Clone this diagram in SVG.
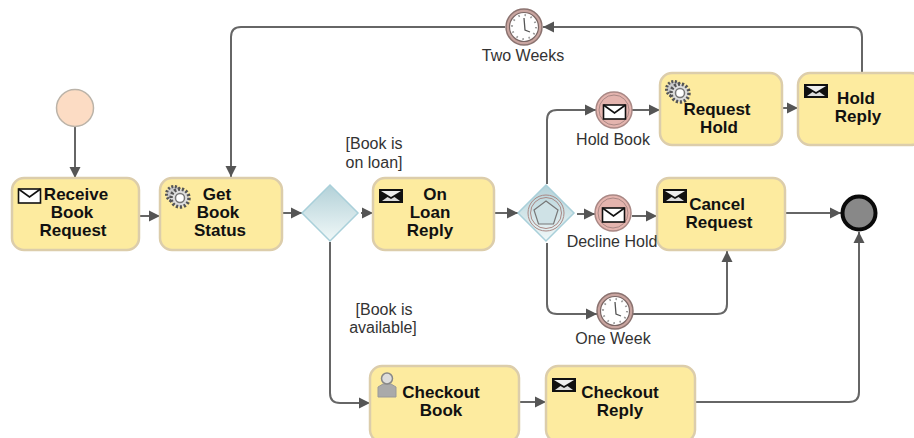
<svg xmlns="http://www.w3.org/2000/svg" xmlns:xlink="http://www.w3.org/1999/xlink" width="914" height="438" viewBox="0 0 914 438">
<style>
.task{fill:#fdeb9f;stroke:#dccdab;stroke-width:2.5}
.t{font-family:"Liberation Sans",Arial,sans-serif;font-weight:bold;font-size:17px;fill:#111;text-anchor:middle}
.l{font-family:"Liberation Sans",Arial,sans-serif;font-size:16px;fill:#333;text-anchor:middle}
.c{fill:none;stroke:#666;stroke-width:2;marker-end:url(#a)}
.gw{fill:url(#g);stroke:#a9d0da;stroke-width:1.5}
.ev{fill:#e4b4ae;stroke:#a98885;stroke-width:1.5}
.ir{fill:none;stroke:#a98885;stroke-width:1}
</style>
<defs>
<marker id="a" markerUnits="userSpaceOnUse" markerWidth="12" markerHeight="12" refX="11" refY="6" orient="auto"><path d="M0 .5L11 6L0 11.5z" fill="#555"/></marker>
<linearGradient id="g" x1="0" y1="0" x2="0" y2="1"><stop offset="0" stop-color="#b3d1d8"/><stop offset="1" stop-color="#f0f8f8"/></linearGradient>
<g id="env"><rect x="0" y="0" width="22" height="14" fill="#fff" stroke="#111" stroke-width="1.6"/><path d="M0 0L11 8L22 0" fill="none" stroke="#111" stroke-width="1.6"/></g>
<g id="envb"><rect x="0" y="0" width="24" height="14" fill="#111"/><path d="M2 2H22L12 8z" fill="#eee"/><path d="M3 12L8.500 8L12 10L15.500 8L21 12z" fill="#ddd"/></g>
<g id="gear"><circle cx="-4" cy="-3" r="7.500" fill="#ccc" stroke="#555" stroke-width="3" stroke-dasharray="2 1.6"/><circle cx="2" cy="1" r="9" fill="#ddd" stroke="#555" stroke-width="3.500" stroke-dasharray="2.2 1.8"/><circle cx="2" cy="1" r="4.500" fill="#fff" stroke="#777" stroke-width="1.5"/></g>
<g id="clock"><circle r="18" fill="#c9a5a0" stroke="#8b7370" stroke-width="1.5"/><circle r="14.5" fill="#fff" stroke="#7a6664" stroke-width="1.2"/><circle r="12" fill="none" stroke="#999" stroke-width="2" stroke-dasharray="1.5 4.8"/><path d="M0 -9L1 3L6 5" fill="none" stroke="#555" stroke-width="1.3"/></g>
</defs>
<rect width="914" height="438" fill="#fff"/>
<g id="connectors">
<path class="c" d="M75 127V178"/>
<path class="c" d="M139 216H160"/>
<path class="c" d="M282 213H302"/>
<path class="c" d="M361 213H373"/>
<path class="c" d="M494 213H518"/>
<path class="c" d="M505 27H241Q231 27 231 37V177"/>
<path class="c" d="M862 72V37Q862 27 852 27H543"/>
<path class="c" d="M547 184V120Q547 110 557 110H596"/>
<path class="c" d="M632 110H660"/>
<path class="c" d="M782 108H798"/>
<path class="c" d="M577 214H595"/>
<path class="c" d="M632 216H657"/>
<path class="c" d="M785 213H841"/>
<path class="c" d="M547 243V304Q547 314 557 314H597"/>
<path class="c" d="M633 314H717Q727 314 727 304V251"/>
<path class="c" d="M330 242V393Q330 403 340 403H370"/>
<path class="c" d="M519 402H546"/>
<path class="c" d="M695 402H849Q859 402 859 392V232"/>
</g>
<g id="start"><circle cx="75" cy="108" r="18.5" fill="#fcdcc4" stroke="#bbb3a8" stroke-width="1.5"/></g>
<g id="receive"><rect class="task" x="12" y="178" width="127" height="72" rx="12"/><use xlink:href="#env" href="#env" x="18.500" y="189"/><text class="t" x="76" y="200">Receive</text><text class="t" x="72" y="218">Book</text><text class="t" x="73" y="236">Request</text></g>
<g id="getstatus"><rect class="task" x="160" y="178" width="122" height="72" rx="12"/><use xlink:href="#gear" href="#gear" x="178" y="197"/><text class="t" x="217" y="200">Get</text><text class="t" x="218" y="218">Book</text><text class="t" x="220" y="236">Status</text></g>
<g id="gateway1"><path class="gw" d="M330 185L358 213L330 241L302 213z"/></g>
<g id="onloan"><rect class="task" x="373" y="178" width="121" height="72" rx="12"/><use xlink:href="#envb" href="#envb" x="379" y="189"/><text class="t" x="435" y="200">On</text><text class="t" x="430" y="218">Loan</text><text class="t" x="430" y="236">Reply</text></g>
<g id="gateway2"><path class="gw" d="M546 185L574 213L546 241L518 213z"/><circle class="ir" cx="546" cy="213" r="18" stroke="#666"/><circle class="ir" cx="546" cy="213" r="15.5"/><path d="M546 201L558 210L553.500 224H538.500L534 210z" fill="#cfe2e6" stroke="#777" stroke-width="1.2"/></g>
<g id="holdbook"><circle class="ev" cx="614" cy="110" r="18"/><circle class="ir" cx="614" cy="110" r="15"/><use xlink:href="#env" href="#env" x="603.500" y="105"/></g>
<g id="requesthold"><rect class="task" x="660" y="73" width="122" height="72" rx="12"/><use xlink:href="#gear" href="#gear" x="678" y="92"/><text class="t" x="717" y="115">Request</text><text class="t" x="719" y="133">Hold</text></g>
<g id="holdreply"><rect class="task" x="798" y="73" width="125" height="72" rx="12"/><use xlink:href="#envb" href="#envb" x="804" y="84"/><text class="t" x="856" y="104">Hold</text><text class="t" x="858" y="122">Reply</text></g>
<g id="twoweeks"><use xlink:href="#clock" href="#clock" x="524" y="27"/></g>
<g id="decline"><circle class="ev" cx="613" cy="213" r="18"/><circle class="ir" cx="613" cy="213" r="15"/><use xlink:href="#env" href="#env" x="602.500" y="208"/></g>
<g id="cancel"><rect class="task" x="657" y="178" width="128" height="72" rx="12"/><use xlink:href="#envb" href="#envb" x="663" y="189"/><text class="t" x="717" y="210">Cancel</text><text class="t" x="719" y="228">Request</text></g>
<g id="oneweek"><use xlink:href="#clock" href="#clock" x="615" y="311"/></g>
<g id="end"><circle cx="859" cy="213" r="16.500" fill="#888" stroke="#0a0a0a" stroke-width="4"/></g>
<g id="checkoutbook"><rect class="task" x="370" y="366" width="149" height="76" rx="12"/><path d="M378 397V387L383 384H391L396 387V397z" fill="#aaa" stroke="#999" stroke-width="1"/><circle cx="387" cy="378.500" r="5.500" fill="#ddd" stroke="#888" stroke-width="1.5"/><text class="t" x="441" y="398">Checkout</text><text class="t" x="441" y="416">Book</text></g>
<g id="checkoutreply"><rect class="task" x="546" y="366" width="149" height="76" rx="12"/><use xlink:href="#envb" href="#envb" x="552" y="378"/><text class="t" x="620" y="398">Checkout</text><text class="t" x="620" y="416">Reply</text></g>
<g id="labels">
<text class="l" x="523" y="61">Two Weeks</text>
<text class="l" x="613" y="145">Hold Book</text>
<text class="l" x="612" y="247">Decline Hold</text>
<text class="l" x="613" y="344">One Week</text>
<text class="l" x="374" y="149">[Book is</text>
<text class="l" x="374" y="168">on loan]</text>
<text class="l" x="384" y="315">[Book is</text>
<text class="l" x="383" y="333">available]</text>
</g>
</svg>
